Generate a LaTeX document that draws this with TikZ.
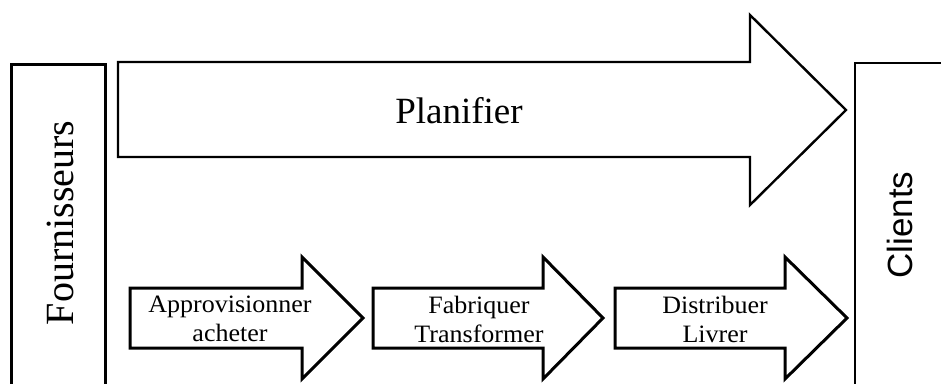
\documentclass[tikz,border=0pt]{standalone}
\usepackage{fontspec}
\setmainfont{Liberation Serif}
\newfontfamily\stepfont[FakeStretch=1.04]{Liberation Serif}
\newfontfamily\clientfont{Liberation Sans}
\begin{document}
\begin{tikzpicture}[x=1pt,y=-1pt,
  frame/.style={draw=black,line width=3pt,line join=miter},
  thinframe/.style={draw=black,line width=2.4pt,line join=miter},
  blockarrow/.style={draw=black,fill=white,line width=3pt,line join=miter},
  bigarrow/.style={draw=black,fill=white,line width=2.4pt,line join=miter},
  steplabel/.style={inner sep=0pt,align=center,font=\stepfont\fontsize{25}{29}\selectfont},
  sidelabel/.style={inner sep=0pt,rotate=90,anchor=base}]
\useasboundingbox (0,0) rectangle (941,383);
\fill[white] (0,0) rectangle (941,383);

% partners on both sides of the chain (boxes run off the page)
\draw[frame] (11,392) -- (11,64) -- (105,64) -- (105,392);
\draw[thinframe] (950,63) -- (855,63) -- (855,392);
\node[sidelabel,font=\fontsize{40}{48}\selectfont] (fournisseurs) at (73,223) {Fournisseurs};
\node[sidelabel,font=\clientfont\fontsize{35}{40}\selectfont] (clients) at (912,225) {Clients};

% planning arrow spanning the whole chain
\draw[bigarrow] (118,62) -- (750,62) -- (750,15) -- (846,110) -- (750,205)
  -- (750,157) -- (118,157) -- cycle;
\node[inner sep=0pt,anchor=base,font=\fontsize{37}{42}\selectfont] (planifier) at (459,123) {Planifier};

% the three operational steps
\draw[blockarrow] (130,288) -- (302,288) -- (302,257) -- (363,318) -- (302,379)
  -- (302,348) -- (130,348) -- cycle;
\draw[blockarrow] (373,288) -- (543,288) -- (543,257) -- (603,318) -- (543,379)
  -- (543,348) -- (373,348) -- cycle;
\draw[blockarrow] (615,288) -- (785,288) -- (785,257) -- (847,318) -- (785,379)
  -- (785,348) -- (615,348) -- cycle;

\node[steplabel] (appro) at (230,319) {Approvisionner\\acheter};
\node[steplabel] (fab) at (479,319) {Fabriquer\\Transformer};
\node[steplabel] (dist) at (715,319) {Distribuer\\Livrer};
\end{tikzpicture}
\end{document}
